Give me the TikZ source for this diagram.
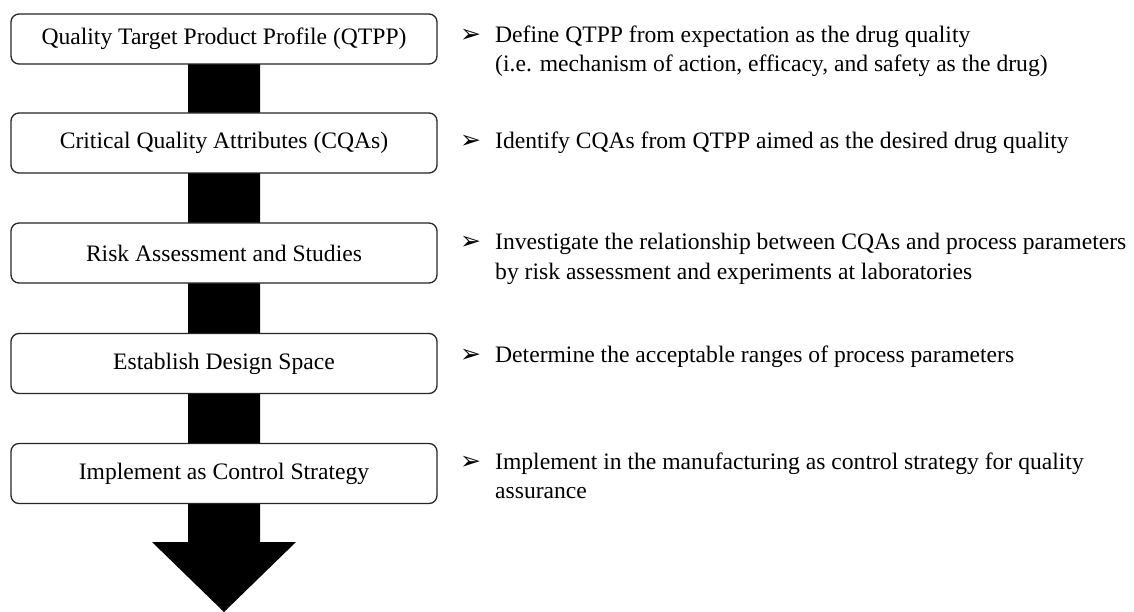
\documentclass[tikz,border=0pt]{standalone}
\usepackage{fontspec}
\setmainfont{Liberation Serif}
\newfontfamily\dingfont{DejaVu Sans}
\usetikzlibrary{backgrounds}

\newcommand{\notebullet}{\makebox[35pt][l]{\dingfont\fontsize{25pt}{25pt}\selectfont ➢}}
\newcommand{\notetext}[1]{\notebullet\parbox[t]{660pt}{\raggedright #1}}

\begin{document}
\begin{tikzpicture}[x=1pt,y=-1pt]
	\tikzstyle{stage}=[draw=black!85,line width=1.3pt,rounded corners=8pt,fill=white,minimum width=426pt,minimum height=60pt,inner sep=0pt,font=\fontsize{23.6pt}{28pt}\selectfont]
	\tikzstyle{note}=[anchor=base west,inner sep=0pt,font=\fontsize{23.6pt}{29pt}\selectfont]
	\useasboundingbox (0,0) rectangle (1134,612);
	\node[stage,minimum height=50pt] (qtpp) at (224,39) {Quality Target Product Profile (QTPP)};
	\node[stage] (cqa) at (224,143) {Critical Quality Attributes (CQAs)};
	\node[stage] (risk) at (224,253) {Risk Assessment and Studies};
	\node[stage] (space) at (224,363.5) {Establish Design Space};
	\node[stage] (control) at (224,473.5) {Implement as Control Strategy};
	\coordinate (neck) at (224,542);
	\coordinate (tip) at (224,612);
	\begin{scope}[on background layer]
		\fill ([xshift=-36pt]qtpp.center) -- ([xshift=36pt]qtpp.center) -- ([xshift=36pt]neck) -- ([xshift=72pt]neck) -- (tip) -- ([xshift=-72pt]neck) -- ([xshift=-36pt]neck) -- cycle;
	\end{scope}
	\node[note] (n1) at (460,43) {\notetext{Define QTPP from expectation as the drug quality\\(i.e. mechanism of action, efficacy, and safety as the drug)}};
	\node[note] (n2) at (460,149) {\notetext{Identify CQAs from QTPP aimed as the desired drug quality}};
	\node[note] (n3) at (460,250) {\notetext{Investigate the relationship between CQAs and process parameters\\by risk assessment and experiments at laboratories}};
	\node[note] (n4) at (460,362) {\notetext{Determine the acceptable ranges of process parameters}};
	\node[note] (n5) at (460,469) {\notetext{Implement in the manufacturing as control strategy for quality\\assurance}};
\end{tikzpicture}
\end{document}
